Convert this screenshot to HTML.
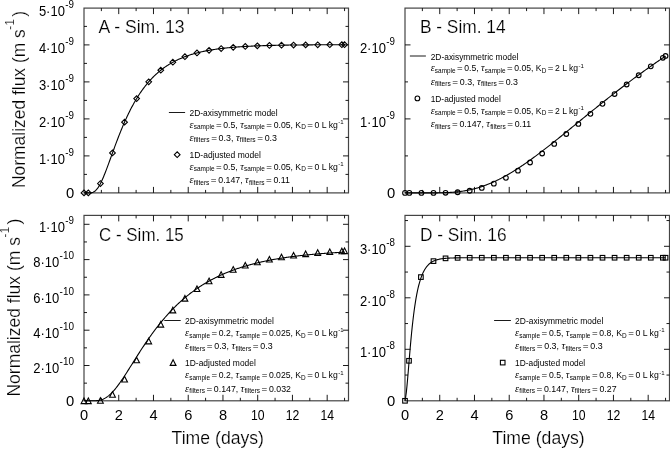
<!DOCTYPE html>
<html><head><meta charset="utf-8"><style>
html,body{margin:0;padding:0;background:#fff;}
svg{display:block;will-change:transform;}
text{font-family:"Liberation Sans",sans-serif;fill:#000;}
.th{stroke:#fff;stroke-width:0.2px;}
</style></head><body>
<svg width="670" height="449" viewBox="0 0 670 449">
<rect width="670" height="449" fill="#fff"/>
<rect x="84.00" y="8.10" width="264.50" height="184.80" fill="none" stroke="#444" stroke-width="1.2"/>
<path d="M101.37,192.90v-3M101.37,8.10v3M118.74,192.90v-6M118.74,8.10v6M136.11,192.90v-3M136.11,8.10v3M153.48,192.90v-6M153.48,8.10v6M170.85,192.90v-3M170.85,8.10v3M188.22,192.90v-6M188.22,8.10v6M205.59,192.90v-3M205.59,8.10v3M222.96,192.90v-6M222.96,8.10v6M240.33,192.90v-3M240.33,8.10v3M257.70,192.90v-6M257.70,8.10v6M275.07,192.90v-3M275.07,8.10v3M292.44,192.90v-6M292.44,8.10v6M309.81,192.90v-3M309.81,8.10v3M327.18,192.90v-6M327.18,8.10v6M344.55,192.90v-3M344.55,8.10v3M84.00,155.90h5.5M348.50,155.90h-5.5M84.00,118.90h5.5M348.50,118.90h-5.5M84.00,81.90h5.5M348.50,81.90h-5.5M84.00,44.90h5.5M348.50,44.90h-5.5M84.00,174.40h3M348.50,174.40h-3M84.00,137.40h3M348.50,137.40h-3M84.00,100.40h3M348.50,100.40h-3M84.00,63.40h3M348.50,63.40h-3M84.00,26.40h3M348.50,26.40h-3" stroke="#000" stroke-width="0.9" fill="none"/>
<text x="74.30" y="198.20" font-size="14.8" text-anchor="end">0</text>
<text x="64.90" y="163.60" font-size="14.8" text-anchor="end" textLength="26" lengthAdjust="spacingAndGlyphs">1·10</text>
<text x="74.00" y="155.70" font-size="10" text-anchor="end" textLength="8.7" lengthAdjust="spacingAndGlyphs">-9</text>
<text x="64.90" y="126.60" font-size="14.8" text-anchor="end" textLength="26" lengthAdjust="spacingAndGlyphs">2·10</text>
<text x="74.00" y="118.70" font-size="10" text-anchor="end" textLength="8.7" lengthAdjust="spacingAndGlyphs">-9</text>
<text x="64.90" y="89.60" font-size="14.8" text-anchor="end" textLength="26" lengthAdjust="spacingAndGlyphs">3·10</text>
<text x="74.00" y="81.70" font-size="10" text-anchor="end" textLength="8.7" lengthAdjust="spacingAndGlyphs">-9</text>
<text x="64.90" y="52.60" font-size="14.8" text-anchor="end" textLength="26" lengthAdjust="spacingAndGlyphs">4·10</text>
<text x="74.00" y="44.70" font-size="10" text-anchor="end" textLength="8.7" lengthAdjust="spacingAndGlyphs">-9</text>
<text x="64.90" y="15.60" font-size="14.8" text-anchor="end" textLength="26" lengthAdjust="spacingAndGlyphs">5·10</text>
<text x="74.00" y="7.70" font-size="10" text-anchor="end" textLength="8.7" lengthAdjust="spacingAndGlyphs">-9</text>
<polyline points="84.00,192.90 84.65,192.90 85.31,192.90 85.96,192.90 86.61,192.90 87.27,192.90 87.92,192.90 88.57,192.89 89.22,192.88 89.88,192.85 90.53,192.81 91.18,192.73 91.84,192.60 92.49,192.42 93.14,192.18 93.80,191.86 94.45,191.46 95.10,190.97 95.75,190.39 96.41,189.71 97.06,188.94 97.71,188.08 98.37,187.12 99.02,186.08 99.67,184.95 100.33,183.74 100.98,182.45 101.63,181.09 102.28,179.67 102.94,178.19 103.59,176.66 104.24,175.07 104.90,173.45 105.55,171.79 106.20,170.09 106.86,168.37 107.51,166.62 108.16,164.86 108.81,163.08 109.47,161.29 110.12,159.49 110.77,157.69 111.43,155.88 112.08,154.08 112.73,152.28 113.39,150.48 114.04,148.70 114.69,146.92 115.34,145.16 116.00,143.41 116.65,141.67 117.30,139.95 117.96,138.25 118.61,136.56 119.26,134.89 119.92,133.25 120.57,131.62 121.22,130.01 121.87,128.43 122.53,126.86 123.18,125.32 123.83,123.81 124.49,122.31 125.14,120.84 125.79,119.39 126.45,117.96 127.10,116.55 127.75,115.17 128.40,113.81 129.06,112.48 129.71,111.16 130.36,109.87 131.02,108.60 131.67,107.36 132.32,106.13 132.98,104.93 133.63,103.75 134.28,102.59 134.93,101.45 135.59,100.33 136.24,99.24 136.89,98.16 137.55,97.10 138.20,96.06 138.85,95.05 139.51,94.05 140.16,93.07 140.81,92.11 141.46,91.17 142.12,90.24 142.77,89.33 143.42,88.45 144.08,87.57 144.73,86.72 145.38,85.88 146.04,85.06 146.69,84.25 147.34,83.46 147.99,82.68 148.65,81.92 149.30,81.18 149.95,80.45 150.61,79.73 151.26,79.03 151.91,78.34 152.57,77.67 153.22,77.01 153.87,76.36 154.52,75.72 155.18,75.10 155.83,74.49 156.48,73.89 157.14,73.30 157.79,72.73 158.44,72.17 159.10,71.61 159.75,71.07 160.40,70.54 161.05,70.02 161.71,69.51 162.36,69.01 163.01,68.52 163.67,68.04 164.32,67.57 164.97,67.11 165.63,66.66 166.28,66.22 166.93,65.79 167.58,65.36 168.24,64.94 168.89,64.54 169.54,64.14 170.20,63.74 170.85,63.36 171.50,62.98 172.16,62.61 172.81,62.25 173.46,61.90 174.12,61.55 174.77,61.21 175.42,60.88 176.07,60.55 176.73,60.23 177.38,59.92 178.03,59.61 178.69,59.31 179.34,59.01 179.99,58.72 180.65,58.44 181.30,58.16 181.95,57.89 182.60,57.62 183.26,57.36 183.91,57.10 184.56,56.85 185.22,56.61 185.87,56.37 186.52,56.13 187.18,55.90 187.83,55.67 188.48,55.45 189.13,55.23 189.79,55.02 190.44,54.81 191.09,54.60 191.75,54.40 192.40,54.21 193.05,54.01 193.71,53.82 194.36,53.64 195.01,53.46 195.66,53.28 196.32,53.10 196.97,52.93 197.62,52.77 198.28,52.60 198.93,52.44 199.58,52.28 200.24,52.13 200.89,51.98 201.54,51.83 202.19,51.69 202.85,51.54 203.50,51.40 204.15,51.27 204.81,51.13 205.46,51.00 206.11,50.87 206.77,50.75 207.42,50.62 208.07,50.50 208.72,50.38 209.38,50.27 210.03,50.15 210.68,50.04 211.34,49.93 211.99,49.83 212.64,49.72 213.30,49.62 213.95,49.52 214.60,49.42 215.25,49.32 215.91,49.23 216.56,49.13 217.21,49.04 217.87,48.95 218.52,48.87 219.17,48.78 219.83,48.70 220.48,48.61 221.13,48.53 221.78,48.45 222.44,48.38 223.09,48.30 223.74,48.23 224.40,48.15 225.05,48.08 225.70,48.01 226.36,47.94 227.01,47.88 227.66,47.81 228.31,47.75 228.97,47.68 229.62,47.62 230.27,47.56 230.93,47.50 231.58,47.44 232.23,47.38 232.89,47.33 233.54,47.27 234.19,47.22 234.84,47.17 235.50,47.12 236.15,47.07 236.80,47.02 237.46,46.97 238.11,46.92 238.76,46.87 239.42,46.83 240.07,46.78 240.72,46.74 241.37,46.70 242.03,46.65 242.68,46.61 243.33,46.57 243.99,46.53 244.64,46.49 245.29,46.45 245.95,46.42 246.60,46.38 247.25,46.35 247.90,46.31 248.56,46.28 249.21,46.24 249.86,46.21 250.52,46.18 251.17,46.14 251.82,46.11 252.48,46.08 253.13,46.05 253.78,46.02 254.43,46.00 255.09,45.97 255.74,45.94 256.39,45.91 257.05,45.89 257.70,45.86 258.35,45.83 259.01,45.81 259.66,45.79 260.31,45.76 260.97,45.74 261.62,45.72 262.27,45.69 262.92,45.67 263.58,45.65 264.23,45.63 264.88,45.61 265.54,45.59 266.19,45.57 266.84,45.55 267.50,45.53 268.15,45.51 268.80,45.49 269.45,45.47 270.11,45.46 270.76,45.44 271.41,45.42 272.07,45.41 272.72,45.39 273.37,45.37 274.03,45.36 274.68,45.34 275.33,45.33 275.98,45.31 276.64,45.30 277.29,45.28 277.94,45.27 278.60,45.26 279.25,45.24 279.90,45.23 280.56,45.22 281.21,45.21 281.86,45.19 282.51,45.18 283.17,45.17 283.82,45.16 284.47,45.15 285.13,45.14 285.78,45.12 286.43,45.11 287.09,45.10 287.74,45.09 288.39,45.08 289.04,45.07 289.70,45.06 290.35,45.05 291.00,45.05 291.66,45.04 292.31,45.03 292.96,45.02 293.62,45.01 294.27,45.00 294.92,44.99 295.57,44.99 296.23,44.98 296.88,44.97 297.53,44.96 298.19,44.96 298.84,44.95 299.49,44.94 300.15,44.93 300.80,44.93 301.45,44.92 302.10,44.91 302.76,44.91 303.41,44.90 304.06,44.90 304.72,44.89 305.37,44.88 306.02,44.88 306.68,44.87 307.33,44.87 307.98,44.86 308.63,44.86 309.29,44.85 309.94,44.85 310.59,44.84 311.25,44.84 311.90,44.83 312.55,44.83 313.21,44.82 313.86,44.82 314.51,44.81 315.16,44.81 315.82,44.80 316.47,44.80 317.12,44.80 317.78,44.79 318.43,44.79 319.08,44.78 319.74,44.78 320.39,44.78 321.04,44.77 321.69,44.77 322.35,44.77 323.00,44.76 323.65,44.76 324.31,44.76 324.96,44.75 325.61,44.75 326.27,44.75 326.92,44.74 327.57,44.74 328.22,44.74 328.88,44.73 329.53,44.73 330.18,44.73 330.84,44.73 331.49,44.72 332.14,44.72 332.80,44.72 333.45,44.72 334.10,44.71 334.75,44.71 335.41,44.71 336.06,44.71 336.71,44.70 337.37,44.70 338.02,44.70 338.67,44.70 339.33,44.70 339.98,44.69 340.63,44.69 341.28,44.69 341.94,44.69 342.59,44.69 343.24,44.68 343.90,44.68 344.55,44.68" fill="none" stroke="#000" stroke-width="1.1"/>
<g fill="none" stroke="#000" stroke-width="1.1"><path d="M81.15,192.90L84.00,190.05L86.85,192.90L84.00,195.75Z"/><path d="M85.49,192.90L88.34,190.05L91.19,192.90L88.34,195.75Z"/><path d="M97.56,183.57L100.41,180.72L103.26,183.57L100.41,186.42Z"/><path d="M109.64,152.95L112.49,150.10L115.34,152.95L112.49,155.80Z"/><path d="M121.71,122.14L124.56,119.29L127.41,122.14L124.56,124.99Z"/><path d="M133.78,98.59L136.63,95.74L139.48,98.59L136.63,101.44Z"/><path d="M145.85,81.86L148.70,79.01L151.55,81.86L148.70,84.71Z"/><path d="M157.93,70.24L160.78,67.39L163.63,70.24L160.78,73.09Z"/><path d="M170.00,62.23L172.85,59.38L175.70,62.23L172.85,65.08Z"/><path d="M182.07,56.72L184.92,53.87L187.77,56.72L184.92,59.57Z"/><path d="M194.14,52.93L196.99,50.08L199.84,52.93L196.99,55.78Z"/><path d="M206.21,50.32L209.06,47.47L211.91,50.32L209.06,53.17Z"/><path d="M218.29,48.53L221.14,45.68L223.99,48.53L221.14,51.38Z"/><path d="M230.36,47.30L233.21,44.45L236.06,47.30L233.21,50.15Z"/><path d="M242.43,46.46L245.28,43.61L248.13,46.46L245.28,49.31Z"/><path d="M254.50,45.87L257.35,43.02L260.20,45.87L257.35,48.72Z"/><path d="M266.57,45.47L269.42,42.62L272.27,45.47L269.42,48.32Z"/><path d="M278.65,45.20L281.50,42.35L284.35,45.20L281.50,48.05Z"/><path d="M290.72,45.01L293.57,42.16L296.42,45.01L293.57,47.86Z"/><path d="M302.79,44.88L305.64,42.03L308.49,44.88L305.64,47.73Z"/><path d="M314.86,44.79L317.71,41.94L320.56,44.79L317.71,47.64Z"/><path d="M326.94,44.73L329.79,41.88L332.64,44.73L329.79,47.58Z"/><path d="M339.01,44.69L341.86,41.84L344.71,44.69L341.86,47.54Z"/><path d="M341.70,44.68L344.55,41.83L347.40,44.68L344.55,47.53Z"/></g>
<rect x="405.00" y="8.10" width="264.50" height="184.80" fill="none" stroke="#444" stroke-width="1.2"/>
<path d="M422.37,192.90v-3M422.37,8.10v3M439.74,192.90v-6M439.74,8.10v6M457.11,192.90v-3M457.11,8.10v3M474.48,192.90v-6M474.48,8.10v6M491.85,192.90v-3M491.85,8.10v3M509.22,192.90v-6M509.22,8.10v6M526.59,192.90v-3M526.59,8.10v3M543.96,192.90v-6M543.96,8.10v6M561.33,192.90v-3M561.33,8.10v3M578.70,192.90v-6M578.70,8.10v6M596.07,192.90v-3M596.07,8.10v3M613.44,192.90v-6M613.44,8.10v6M630.81,192.90v-3M630.81,8.10v3M648.18,192.90v-6M648.18,8.10v6M665.55,192.90v-3M665.55,8.10v3M405.00,118.90h5.5M669.50,118.90h-5.5M405.00,44.90h5.5M669.50,44.90h-5.5M405.00,155.90h3M669.50,155.90h-3M405.00,81.90h3M669.50,81.90h-3" stroke="#000" stroke-width="0.9" fill="none"/>
<text x="395.30" y="198.20" font-size="14.8" text-anchor="end">0</text>
<text x="385.90" y="126.60" font-size="14.8" text-anchor="end" textLength="26" lengthAdjust="spacingAndGlyphs">1·10</text>
<text x="395.00" y="118.70" font-size="10" text-anchor="end" textLength="8.7" lengthAdjust="spacingAndGlyphs">-9</text>
<text x="385.90" y="52.60" font-size="14.8" text-anchor="end" textLength="26" lengthAdjust="spacingAndGlyphs">2·10</text>
<text x="395.00" y="44.70" font-size="10" text-anchor="end" textLength="8.7" lengthAdjust="spacingAndGlyphs">-9</text>
<polyline points="405.00,192.90 405.65,192.90 406.31,192.90 406.96,192.90 407.61,192.90 408.27,192.90 408.92,192.90 409.57,192.90 410.22,192.90 410.88,192.90 411.53,192.90 412.18,192.90 412.84,192.90 413.49,192.90 414.14,192.90 414.80,192.90 415.45,192.90 416.10,192.90 416.75,192.90 417.41,192.90 418.06,192.90 418.71,192.90 419.37,192.90 420.02,192.90 420.67,192.90 421.33,192.90 421.98,192.90 422.63,192.90 423.28,192.90 423.94,192.90 424.59,192.90 425.24,192.90 425.90,192.90 426.55,192.90 427.20,192.89 427.86,192.89 428.51,192.89 429.16,192.89 429.81,192.89 430.47,192.89 431.12,192.88 431.77,192.88 432.43,192.88 433.08,192.87 433.73,192.87 434.39,192.86 435.04,192.86 435.69,192.85 436.34,192.85 437.00,192.84 437.65,192.83 438.30,192.82 438.96,192.81 439.61,192.80 440.26,192.79 440.92,192.77 441.57,192.76 442.22,192.74 442.87,192.73 443.53,192.71 444.18,192.69 444.83,192.66 445.49,192.64 446.14,192.61 446.79,192.59 447.45,192.56 448.10,192.53 448.75,192.49 449.40,192.46 450.06,192.42 450.71,192.38 451.36,192.34 452.02,192.29 452.67,192.24 453.32,192.19 453.98,192.14 454.63,192.09 455.28,192.03 455.93,191.97 456.59,191.90 457.24,191.83 457.89,191.76 458.55,191.69 459.20,191.61 459.85,191.53 460.51,191.45 461.16,191.36 461.81,191.27 462.46,191.18 463.12,191.08 463.77,190.98 464.42,190.87 465.08,190.76 465.73,190.65 466.38,190.53 467.04,190.41 467.69,190.29 468.34,190.16 468.99,190.03 469.65,189.89 470.30,189.75 470.95,189.61 471.61,189.46 472.26,189.30 472.91,189.15 473.57,188.99 474.22,188.82 474.87,188.65 475.52,188.48 476.18,188.30 476.83,188.12 477.48,187.93 478.14,187.74 478.79,187.54 479.44,187.34 480.10,187.14 480.75,186.93 481.40,186.72 482.05,186.50 482.71,186.28 483.36,186.05 484.01,185.82 484.67,185.59 485.32,185.35 485.97,185.11 486.63,184.86 487.28,184.61 487.93,184.35 488.58,184.09 489.24,183.83 489.89,183.56 490.54,183.29 491.20,183.01 491.85,182.73 492.50,182.44 493.16,182.15 493.81,181.86 494.46,181.56 495.12,181.26 495.77,180.96 496.42,180.65 497.07,180.33 497.73,180.02 498.38,179.70 499.03,179.37 499.69,179.04 500.34,178.71 500.99,178.37 501.65,178.03 502.30,177.69 502.95,177.34 503.60,176.99 504.26,176.63 504.91,176.28 505.56,175.91 506.22,175.55 506.87,175.18 507.52,174.81 508.18,174.43 508.83,174.05 509.48,173.67 510.13,173.28 510.79,172.89 511.44,172.50 512.09,172.11 512.75,171.71 513.40,171.31 514.05,170.90 514.71,170.49 515.36,170.08 516.01,169.67 516.66,169.25 517.32,168.83 517.97,168.41 518.62,167.99 519.28,167.56 519.93,167.13 520.58,166.70 521.24,166.26 521.89,165.82 522.54,165.38 523.19,164.94 523.85,164.49 524.50,164.05 525.15,163.60 525.81,163.14 526.46,162.69 527.11,162.23 527.77,161.77 528.42,161.31 529.07,160.85 529.72,160.38 530.38,159.91 531.03,159.44 531.68,158.97 532.34,158.49 532.99,158.02 533.64,157.54 534.30,157.06 534.95,156.58 535.60,156.10 536.25,155.61 536.91,155.12 537.56,154.64 538.21,154.15 538.87,153.65 539.52,153.16 540.17,152.67 540.83,152.17 541.48,151.67 542.13,151.17 542.78,150.67 543.44,150.17 544.09,149.67 544.74,149.16 545.40,148.66 546.05,148.15 546.70,147.64 547.36,147.13 548.01,146.62 548.66,146.11 549.31,145.60 549.97,145.08 550.62,144.57 551.27,144.05 551.93,143.54 552.58,143.02 553.23,142.50 553.89,141.98 554.54,141.46 555.19,140.94 555.84,140.42 556.50,139.90 557.15,139.37 557.80,138.85 558.46,138.33 559.11,137.80 559.76,137.28 560.42,136.75 561.07,136.22 561.72,135.70 562.37,135.17 563.03,134.64 563.68,134.11 564.33,133.58 564.99,133.05 565.64,132.52 566.29,131.99 566.95,131.46 567.60,130.93 568.25,130.40 568.90,129.87 569.56,129.33 570.21,128.80 570.86,128.27 571.52,127.74 572.17,127.20 572.82,126.67 573.48,126.14 574.13,125.61 574.78,125.07 575.43,124.54 576.09,124.01 576.74,123.47 577.39,122.94 578.05,122.41 578.70,121.87 579.35,121.34 580.01,120.81 580.66,120.27 581.31,119.74 581.97,119.21 582.62,118.68 583.27,118.14 583.92,117.61 584.58,117.08 585.23,116.55 585.88,116.02 586.54,115.49 587.19,114.95 587.84,114.42 588.50,113.89 589.15,113.36 589.80,112.83 590.45,112.30 591.11,111.78 591.76,111.25 592.41,110.72 593.07,110.19 593.72,109.66 594.37,109.13 595.03,108.61 595.68,108.08 596.33,107.56 596.98,107.03 597.64,106.51 598.29,105.98 598.94,105.46 599.60,104.93 600.25,104.41 600.90,103.89 601.56,103.37 602.21,102.85 602.86,102.33 603.51,101.81 604.17,101.29 604.82,100.77 605.47,100.25 606.13,99.73 606.78,99.21 607.43,98.70 608.09,98.18 608.74,97.67 609.39,97.15 610.04,96.64 610.70,96.13 611.35,95.61 612.00,95.10 612.66,94.59 613.31,94.08 613.96,93.57 614.62,93.06 615.27,92.56 615.92,92.05 616.57,91.54 617.23,91.04 617.88,90.53 618.53,90.03 619.19,89.52 619.84,89.02 620.49,88.52 621.15,88.02 621.80,87.52 622.45,87.02 623.10,86.52 623.76,86.02 624.41,85.53 625.06,85.03 625.72,84.54 626.37,84.04 627.02,83.55 627.68,83.06 628.33,82.57 628.98,82.08 629.63,81.59 630.29,81.10 630.94,80.61 631.59,80.12 632.25,79.64 632.90,79.15 633.55,78.67 634.21,78.18 634.86,77.70 635.51,77.22 636.16,76.74 636.82,76.26 637.47,75.78 638.12,75.30 638.78,74.83 639.43,74.35 640.08,73.88 640.74,73.40 641.39,72.93 642.04,72.46 642.69,71.99 643.35,71.52 644.00,71.05 644.65,70.58 645.31,70.11 645.96,69.65 646.61,69.18 647.27,68.72 647.92,68.25 648.57,67.79 649.22,67.33 649.88,66.87 650.53,66.41 651.18,65.95 651.84,65.50 652.49,65.04 653.14,64.58 653.80,64.13 654.45,63.68 655.10,63.23 655.75,62.77 656.41,62.32 657.06,61.88 657.71,61.43 658.37,60.98 659.02,60.54 659.67,60.09 660.33,59.65 660.98,59.20 661.63,58.76 662.28,58.32 662.94,57.88 663.59,57.44 664.24,57.01 664.90,56.57 665.55,56.13" fill="none" stroke="#000" stroke-width="1.1"/>
<g fill="none" stroke="#000" stroke-width="1.1"><circle cx="405.00" cy="192.90" r="2.35"/><circle cx="409.34" cy="192.90" r="2.35"/><circle cx="421.41" cy="192.90" r="2.35"/><circle cx="433.49" cy="192.89" r="2.35"/><circle cx="445.56" cy="192.78" r="2.35"/><circle cx="457.63" cy="192.24" r="2.35"/><circle cx="469.70" cy="190.77" r="2.35"/><circle cx="481.78" cy="187.96" r="2.35"/><circle cx="493.85" cy="183.64" r="2.35"/><circle cx="505.92" cy="177.83" r="2.35"/><circle cx="517.99" cy="170.70" r="2.35"/><circle cx="530.06" cy="162.51" r="2.35"/><circle cx="542.14" cy="153.50" r="2.35"/><circle cx="554.21" cy="143.93" r="2.35"/><circle cx="566.28" cy="134.02" r="2.35"/><circle cx="578.35" cy="123.94" r="2.35"/><circle cx="590.42" cy="113.85" r="2.35"/><circle cx="602.50" cy="103.86" r="2.35"/><circle cx="614.57" cy="94.06" r="2.35"/><circle cx="626.64" cy="84.51" r="2.35"/><circle cx="638.71" cy="75.27" r="2.35"/><circle cx="650.79" cy="66.37" r="2.35"/><circle cx="662.86" cy="57.82" r="2.35"/><circle cx="665.55" cy="55.96" r="2.35"/></g>
<rect x="84.00" y="215.40" width="264.50" height="185.40" fill="none" stroke="#444" stroke-width="1.2"/>
<path d="M101.37,400.80v-3M101.37,215.40v3M118.74,400.80v-6M118.74,215.40v6M136.11,400.80v-3M136.11,215.40v3M153.48,400.80v-6M153.48,215.40v6M170.85,400.80v-3M170.85,215.40v3M188.22,400.80v-6M188.22,215.40v6M205.59,400.80v-3M205.59,215.40v3M222.96,400.80v-6M222.96,215.40v6M240.33,400.80v-3M240.33,215.40v3M257.70,400.80v-6M257.70,215.40v6M275.07,400.80v-3M275.07,215.40v3M292.44,400.80v-6M292.44,215.40v6M309.81,400.80v-3M309.81,215.40v3M327.18,400.80v-6M327.18,215.40v6M344.55,400.80v-3M344.55,215.40v3M84.00,365.50h5.5M348.50,365.50h-5.5M84.00,330.20h5.5M348.50,330.20h-5.5M84.00,294.90h5.5M348.50,294.90h-5.5M84.00,259.60h5.5M348.50,259.60h-5.5M84.00,224.30h5.5M348.50,224.30h-5.5M84.00,383.15h3M348.50,383.15h-3M84.00,347.85h3M348.50,347.85h-3M84.00,312.55h3M348.50,312.55h-3M84.00,277.25h3M348.50,277.25h-3M84.00,241.95h3M348.50,241.95h-3" stroke="#000" stroke-width="0.9" fill="none"/>
<text x="74.30" y="406.10" font-size="14.8" text-anchor="end">0</text>
<text x="59.20" y="373.20" font-size="14.8" text-anchor="end" textLength="26" lengthAdjust="spacingAndGlyphs">2·10</text>
<text x="74.00" y="365.30" font-size="10" text-anchor="end" textLength="14.4" lengthAdjust="spacingAndGlyphs">-10</text>
<text x="59.20" y="337.90" font-size="14.8" text-anchor="end" textLength="26" lengthAdjust="spacingAndGlyphs">4·10</text>
<text x="74.00" y="330.00" font-size="10" text-anchor="end" textLength="14.4" lengthAdjust="spacingAndGlyphs">-10</text>
<text x="59.20" y="302.60" font-size="14.8" text-anchor="end" textLength="26" lengthAdjust="spacingAndGlyphs">6·10</text>
<text x="74.00" y="294.70" font-size="10" text-anchor="end" textLength="14.4" lengthAdjust="spacingAndGlyphs">-10</text>
<text x="59.20" y="267.30" font-size="14.8" text-anchor="end" textLength="26" lengthAdjust="spacingAndGlyphs">8·10</text>
<text x="74.00" y="259.40" font-size="10" text-anchor="end" textLength="14.4" lengthAdjust="spacingAndGlyphs">-10</text>
<text x="64.90" y="232.00" font-size="14.8" text-anchor="end" textLength="26" lengthAdjust="spacingAndGlyphs">1·10</text>
<text x="74.00" y="224.10" font-size="10" text-anchor="end" textLength="8.7" lengthAdjust="spacingAndGlyphs">-9</text>
<text x="84.00" y="420.20" font-size="14.6" text-anchor="middle">0</text>
<text x="118.74" y="420.20" font-size="14.6" text-anchor="middle">2</text>
<text x="153.48" y="420.20" font-size="14.6" text-anchor="middle">4</text>
<text x="188.22" y="420.20" font-size="14.6" text-anchor="middle">6</text>
<text x="222.96" y="420.20" font-size="14.6" text-anchor="middle">8</text>
<text x="257.70" y="420.20" font-size="14.6" text-anchor="middle" textLength="13.6" lengthAdjust="spacingAndGlyphs">10</text>
<text x="292.44" y="420.20" font-size="14.6" text-anchor="middle" textLength="13.6" lengthAdjust="spacingAndGlyphs">12</text>
<text x="327.18" y="420.20" font-size="14.6" text-anchor="middle" textLength="13.6" lengthAdjust="spacingAndGlyphs">14</text>
<polyline points="84.00,400.80 84.65,400.80 85.31,400.80 85.96,400.80 86.61,400.80 87.27,400.80 87.92,400.80 88.57,400.80 89.22,400.80 89.88,400.80 90.53,400.80 91.18,400.80 91.84,400.80 92.49,400.79 93.14,400.78 93.80,400.77 94.45,400.76 95.10,400.73 95.75,400.70 96.41,400.66 97.06,400.60 97.71,400.53 98.37,400.44 99.02,400.34 99.67,400.21 100.33,400.06 100.98,399.89 101.63,399.69 102.28,399.46 102.94,399.21 103.59,398.93 104.24,398.61 104.90,398.27 105.55,397.90 106.20,397.49 106.86,397.06 107.51,396.59 108.16,396.09 108.81,395.57 109.47,395.01 110.12,394.42 110.77,393.81 111.43,393.17 112.08,392.50 112.73,391.81 113.39,391.09 114.04,390.34 114.69,389.58 115.34,388.79 116.00,387.98 116.65,387.15 117.30,386.30 117.96,385.43 118.61,384.55 119.26,383.65 119.92,382.73 120.57,381.80 121.22,380.86 121.87,379.91 122.53,378.94 123.18,377.97 123.83,376.98 124.49,375.99 125.14,374.99 125.79,373.98 126.45,372.96 127.10,371.94 127.75,370.92 128.40,369.89 129.06,368.86 129.71,367.82 130.36,366.79 131.02,365.75 131.67,364.71 132.32,363.67 132.98,362.63 133.63,361.59 134.28,360.55 134.93,359.51 135.59,358.48 136.24,357.45 136.89,356.42 137.55,355.39 138.20,354.36 138.85,353.34 139.51,352.33 140.16,351.32 140.81,350.31 141.46,349.30 142.12,348.31 142.77,347.31 143.42,346.33 144.08,345.34 144.73,344.37 145.38,343.40 146.04,342.43 146.69,341.48 147.34,340.52 147.99,339.58 148.65,338.64 149.30,337.71 149.95,336.78 150.61,335.87 151.26,334.95 151.91,334.05 152.57,333.15 153.22,332.26 153.87,331.38 154.52,330.51 155.18,329.64 155.83,328.78 156.48,327.92 157.14,327.08 157.79,326.24 158.44,325.41 159.10,324.59 159.75,323.77 160.40,322.96 161.05,322.16 161.71,321.37 162.36,320.58 163.01,319.80 163.67,319.03 164.32,318.27 164.97,317.51 165.63,316.76 166.28,316.02 166.93,315.28 167.58,314.55 168.24,313.83 168.89,313.12 169.54,312.41 170.20,311.71 170.85,311.02 171.50,310.34 172.16,309.66 172.81,308.99 173.46,308.32 174.12,307.67 174.77,307.02 175.42,306.37 176.07,305.74 176.73,305.11 177.38,304.48 178.03,303.86 178.69,303.25 179.34,302.65 179.99,302.05 180.65,301.46 181.30,300.87 181.95,300.30 182.60,299.72 183.26,299.16 183.91,298.60 184.56,298.04 185.22,297.49 185.87,296.95 186.52,296.41 187.18,295.88 187.83,295.36 188.48,294.84 189.13,294.32 189.79,293.81 190.44,293.31 191.09,292.81 191.75,292.32 192.40,291.84 193.05,291.36 193.71,290.88 194.36,290.41 195.01,289.94 195.66,289.48 196.32,289.03 196.97,288.58 197.62,288.13 198.28,287.69 198.93,287.26 199.58,286.83 200.24,286.40 200.89,285.98 201.54,285.56 202.19,285.15 202.85,284.75 203.50,284.34 204.15,283.95 204.81,283.55 205.46,283.16 206.11,282.78 206.77,282.40 207.42,282.02 208.07,281.65 208.72,281.28 209.38,280.92 210.03,280.56 210.68,280.20 211.34,279.85 211.99,279.50 212.64,279.16 213.30,278.82 213.95,278.48 214.60,278.15 215.25,277.82 215.91,277.50 216.56,277.17 217.21,276.86 217.87,276.54 218.52,276.23 219.17,275.93 219.83,275.62 220.48,275.32 221.13,275.02 221.78,274.73 222.44,274.44 223.09,274.15 223.74,273.87 224.40,273.59 225.05,273.31 225.70,273.04 226.36,272.77 227.01,272.50 227.66,272.23 228.31,271.97 228.97,271.71 229.62,271.46 230.27,271.20 230.93,270.95 231.58,270.71 232.23,270.46 232.89,270.22 233.54,269.98 234.19,269.74 234.84,269.51 235.50,269.28 236.15,269.05 236.80,268.83 237.46,268.60 238.11,268.38 238.76,268.16 239.42,267.95 240.07,267.73 240.72,267.52 241.37,267.31 242.03,267.11 242.68,266.90 243.33,266.70 243.99,266.50 244.64,266.31 245.29,266.11 245.95,265.92 246.60,265.73 247.25,265.54 247.90,265.35 248.56,265.17 249.21,264.99 249.86,264.81 250.52,264.63 251.17,264.45 251.82,264.28 252.48,264.11 253.13,263.94 253.78,263.77 254.43,263.60 255.09,263.44 255.74,263.28 256.39,263.12 257.05,262.96 257.70,262.80 258.35,262.65 259.01,262.49 259.66,262.34 260.31,262.19 260.97,262.04 261.62,261.90 262.27,261.75 262.92,261.61 263.58,261.47 264.23,261.33 264.88,261.19 265.54,261.05 266.19,260.92 266.84,260.79 267.50,260.65 268.15,260.52 268.80,260.39 269.45,260.27 270.11,260.14 270.76,260.01 271.41,259.89 272.07,259.77 272.72,259.65 273.37,259.53 274.03,259.41 274.68,259.29 275.33,259.18 275.98,259.07 276.64,258.95 277.29,258.84 277.94,258.73 278.60,258.62 279.25,258.52 279.90,258.41 280.56,258.30 281.21,258.20 281.86,258.10 282.51,258.00 283.17,257.90 283.82,257.80 284.47,257.70 285.13,257.60 285.78,257.50 286.43,257.41 287.09,257.32 287.74,257.22 288.39,257.13 289.04,257.04 289.70,256.95 290.35,256.86 291.00,256.78 291.66,256.69 292.31,256.60 292.96,256.52 293.62,256.43 294.27,256.35 294.92,256.27 295.57,256.19 296.23,256.11 296.88,256.03 297.53,255.95 298.19,255.87 298.84,255.80 299.49,255.72 300.15,255.65 300.80,255.57 301.45,255.50 302.10,255.43 302.76,255.36 303.41,255.29 304.06,255.22 304.72,255.15 305.37,255.08 306.02,255.01 306.68,254.95 307.33,254.88 307.98,254.82 308.63,254.75 309.29,254.69 309.94,254.63 310.59,254.56 311.25,254.50 311.90,254.44 312.55,254.38 313.21,254.32 313.86,254.26 314.51,254.20 315.16,254.15 315.82,254.09 316.47,254.03 317.12,253.98 317.78,253.92 318.43,253.87 319.08,253.82 319.74,253.76 320.39,253.71 321.04,253.66 321.69,253.61 322.35,253.56 323.00,253.51 323.65,253.46 324.31,253.41 324.96,253.36 325.61,253.31 326.27,253.27 326.92,253.22 327.57,253.17 328.22,253.13 328.88,253.08 329.53,253.04 330.18,252.99 330.84,252.95 331.49,252.91 332.14,252.86 332.80,252.82 333.45,252.78 334.10,252.74 334.75,252.70 335.41,252.66 336.06,252.62 336.71,252.58 337.37,252.54 338.02,252.50 338.67,252.46 339.33,252.43 339.98,252.39 340.63,252.35 341.28,252.32 341.94,252.28 342.59,252.24 343.24,252.21 343.90,252.17 344.55,252.14" fill="none" stroke="#000" stroke-width="1.1"/>
<g fill="none" stroke="#000" stroke-width="1.1"><path d="M84.00,398.00L86.90,403.60L81.10,403.60Z"/><path d="M88.34,398.00L91.24,403.60L85.44,403.60Z"/><path d="M100.41,397.70L103.31,403.30L97.51,403.30Z"/><path d="M112.49,391.58L115.39,397.18L109.59,397.18Z"/><path d="M124.56,376.33L127.46,381.93L121.66,381.93Z"/><path d="M136.63,357.14L139.53,362.74L133.73,362.74Z"/><path d="M148.70,338.26L151.60,343.86L145.80,343.86Z"/><path d="M160.78,321.50L163.68,327.10L157.88,327.10Z"/><path d="M172.85,307.30L175.75,312.90L169.95,312.90Z"/><path d="M184.92,295.55L187.82,301.15L182.02,301.15Z"/><path d="M196.99,285.93L199.89,291.53L194.09,291.53Z"/><path d="M209.06,278.11L211.96,283.71L206.16,283.71Z"/><path d="M221.14,271.76L224.04,277.36L218.24,277.36Z"/><path d="M233.21,266.62L236.11,272.22L230.31,272.22Z"/><path d="M245.28,262.47L248.18,268.07L242.38,268.07Z"/><path d="M257.35,259.11L260.25,264.71L254.45,264.71Z"/><path d="M269.42,256.39L272.32,261.99L266.52,261.99Z"/><path d="M281.50,254.19L284.40,259.79L278.60,259.79Z"/><path d="M293.57,252.42L296.47,258.02L290.67,258.02Z"/><path d="M305.64,250.98L308.54,256.58L302.74,256.58Z"/><path d="M317.71,249.82L320.61,255.42L314.81,255.42Z"/><path d="M329.79,248.89L332.69,254.49L326.89,254.49Z"/><path d="M341.86,248.13L344.76,253.73L338.96,253.73Z"/><path d="M344.55,247.98L347.45,253.58L341.65,253.58Z"/></g>
<rect x="405.00" y="215.40" width="264.50" height="185.40" fill="none" stroke="#444" stroke-width="1.2"/>
<path d="M422.37,400.80v-3M422.37,215.40v3M439.74,400.80v-6M439.74,215.40v6M457.11,400.80v-3M457.11,215.40v3M474.48,400.80v-6M474.48,215.40v6M491.85,400.80v-3M491.85,215.40v3M509.22,400.80v-6M509.22,215.40v6M526.59,400.80v-3M526.59,215.40v3M543.96,400.80v-6M543.96,215.40v6M561.33,400.80v-3M561.33,215.40v3M578.70,400.80v-6M578.70,215.40v6M596.07,400.80v-3M596.07,215.40v3M613.44,400.80v-6M613.44,215.40v6M630.81,400.80v-3M630.81,215.40v3M648.18,400.80v-6M648.18,215.40v6M665.55,400.80v-3M665.55,215.40v3M405.00,349.30h5.5M669.50,349.30h-5.5M405.00,297.80h5.5M669.50,297.80h-5.5M405.00,246.30h5.5M669.50,246.30h-5.5M405.00,375.05h3M669.50,375.05h-3M405.00,323.55h3M669.50,323.55h-3M405.00,272.05h3M669.50,272.05h-3M405.00,220.55h3M669.50,220.55h-3" stroke="#000" stroke-width="0.9" fill="none"/>
<text x="395.30" y="406.10" font-size="14.8" text-anchor="end">0</text>
<text x="385.90" y="357.00" font-size="14.8" text-anchor="end" textLength="26" lengthAdjust="spacingAndGlyphs">1·10</text>
<text x="395.00" y="349.10" font-size="10" text-anchor="end" textLength="8.7" lengthAdjust="spacingAndGlyphs">-8</text>
<text x="385.90" y="305.50" font-size="14.8" text-anchor="end" textLength="26" lengthAdjust="spacingAndGlyphs">2·10</text>
<text x="395.00" y="297.60" font-size="10" text-anchor="end" textLength="8.7" lengthAdjust="spacingAndGlyphs">-8</text>
<text x="385.90" y="254.00" font-size="14.8" text-anchor="end" textLength="26" lengthAdjust="spacingAndGlyphs">3·10</text>
<text x="395.00" y="246.10" font-size="10" text-anchor="end" textLength="8.7" lengthAdjust="spacingAndGlyphs">-8</text>
<text x="405.00" y="420.20" font-size="14.6" text-anchor="middle">0</text>
<text x="439.74" y="420.20" font-size="14.6" text-anchor="middle">2</text>
<text x="474.48" y="420.20" font-size="14.6" text-anchor="middle">4</text>
<text x="509.22" y="420.20" font-size="14.6" text-anchor="middle">6</text>
<text x="543.96" y="420.20" font-size="14.6" text-anchor="middle">8</text>
<text x="578.70" y="420.20" font-size="14.6" text-anchor="middle" textLength="13.6" lengthAdjust="spacingAndGlyphs">10</text>
<text x="613.44" y="420.20" font-size="14.6" text-anchor="middle" textLength="13.6" lengthAdjust="spacingAndGlyphs">12</text>
<text x="648.18" y="420.20" font-size="14.6" text-anchor="middle" textLength="13.6" lengthAdjust="spacingAndGlyphs">14</text>
<polyline points="405.00,400.80 405.65,397.14 406.31,392.35 406.96,386.17 407.61,378.97 408.27,371.20 408.92,363.23 409.57,355.33 410.22,347.68 410.88,340.40 411.53,333.55 412.18,327.15 412.84,321.22 413.49,315.74 414.14,310.70 414.80,306.07 415.45,301.83 416.10,297.95 416.75,294.40 417.41,291.16 418.06,288.21 418.71,285.51 419.37,283.05 420.02,280.80 420.67,278.76 421.33,276.89 421.98,275.19 422.63,273.64 423.28,272.23 423.94,270.94 424.59,269.77 425.24,268.70 425.90,267.73 426.55,266.84 427.20,266.03 427.86,265.30 428.51,264.62 429.16,264.01 429.81,263.45 430.47,262.95 431.12,262.48 431.77,262.06 432.43,261.68 433.08,261.33 433.73,261.01 434.39,260.72 435.04,260.45 435.69,260.21 436.34,259.99 437.00,259.79 437.65,259.61 438.30,259.44 438.96,259.29 439.61,259.15 440.26,259.03 440.92,258.91 441.57,258.81 442.22,258.71 442.87,258.63 443.53,258.55 444.18,258.48 444.83,258.41 445.49,258.35 446.14,258.30 446.79,258.25 447.45,258.20 448.10,258.16 448.75,258.12 449.40,258.09 450.06,258.06 450.71,258.03 451.36,258.00 452.02,257.98 452.67,257.96 453.32,257.94 453.98,257.92 454.63,257.90 455.28,257.89 455.93,257.87 456.59,257.86 457.24,257.85 457.89,257.84 458.55,257.83 459.20,257.82 459.85,257.82 460.51,257.81 461.16,257.80 461.81,257.80 462.46,257.79 463.12,257.79 463.77,257.78 464.42,257.78 465.08,257.77 465.73,257.77 466.38,257.77 467.04,257.76 467.69,257.76 468.34,257.76 468.99,257.76 469.65,257.76 470.30,257.75 470.95,257.75 471.61,257.75 472.26,257.75 472.91,257.75 473.57,257.75 474.22,257.75 474.87,257.75 475.52,257.75 476.18,257.74 476.83,257.74 477.48,257.74 478.14,257.74 478.79,257.74 479.44,257.74 480.10,257.74 480.75,257.74 481.40,257.74 482.05,257.74 482.71,257.74 483.36,257.74 484.01,257.74 484.67,257.74 485.32,257.74 485.97,257.74 486.63,257.74 487.28,257.74 487.93,257.74 488.58,257.74 489.24,257.74 489.89,257.74 490.54,257.74 491.20,257.74 491.85,257.74 492.50,257.74 493.16,257.74 493.81,257.74 494.46,257.74 495.12,257.74 495.77,257.74 496.42,257.74 497.07,257.74 497.73,257.74 498.38,257.74 499.03,257.74 499.69,257.74 500.34,257.74 500.99,257.74 501.65,257.74 502.30,257.74 502.95,257.74 503.60,257.74 504.26,257.74 504.91,257.74 505.56,257.74 506.22,257.74 506.87,257.74 507.52,257.74 508.18,257.74 508.83,257.74 509.48,257.74 510.13,257.74 510.79,257.74 511.44,257.74 512.09,257.74 512.75,257.74 513.40,257.74 514.05,257.74 514.71,257.74 515.36,257.74 516.01,257.74 516.66,257.74 517.32,257.74 517.97,257.74 518.62,257.74 519.28,257.74 519.93,257.74 520.58,257.74 521.24,257.74 521.89,257.74 522.54,257.74 523.19,257.74 523.85,257.74 524.50,257.74 525.15,257.74 525.81,257.74 526.46,257.74 527.11,257.74 527.77,257.74 528.42,257.74 529.07,257.74 529.72,257.74 530.38,257.74 531.03,257.74 531.68,257.74 532.34,257.74 532.99,257.74 533.64,257.74 534.30,257.74 534.95,257.74 535.60,257.74 536.25,257.74 536.91,257.74 537.56,257.74 538.21,257.74 538.87,257.74 539.52,257.74 540.17,257.74 540.83,257.74 541.48,257.74 542.13,257.74 542.78,257.74 543.44,257.74 544.09,257.74 544.74,257.74 545.40,257.74 546.05,257.74 546.70,257.74 547.36,257.74 548.01,257.74 548.66,257.74 549.31,257.74 549.97,257.74 550.62,257.74 551.27,257.74 551.93,257.74 552.58,257.74 553.23,257.74 553.89,257.74 554.54,257.74 555.19,257.74 555.84,257.74 556.50,257.74 557.15,257.74 557.80,257.74 558.46,257.74 559.11,257.74 559.76,257.74 560.42,257.74 561.07,257.74 561.72,257.74 562.37,257.74 563.03,257.74 563.68,257.74 564.33,257.74 564.99,257.74 565.64,257.74 566.29,257.74 566.95,257.74 567.60,257.74 568.25,257.74 568.90,257.74 569.56,257.74 570.21,257.74 570.86,257.74 571.52,257.74 572.17,257.74 572.82,257.74 573.48,257.74 574.13,257.74 574.78,257.74 575.43,257.74 576.09,257.74 576.74,257.74 577.39,257.74 578.05,257.74 578.70,257.74 579.35,257.74 580.01,257.74 580.66,257.74 581.31,257.74 581.97,257.74 582.62,257.74 583.27,257.74 583.92,257.74 584.58,257.74 585.23,257.74 585.88,257.74 586.54,257.74 587.19,257.74 587.84,257.74 588.50,257.74 589.15,257.74 589.80,257.74 590.45,257.74 591.11,257.74 591.76,257.74 592.41,257.74 593.07,257.74 593.72,257.74 594.37,257.74 595.03,257.74 595.68,257.74 596.33,257.74 596.98,257.74 597.64,257.74 598.29,257.74 598.94,257.74 599.60,257.74 600.25,257.74 600.90,257.74 601.56,257.74 602.21,257.74 602.86,257.74 603.51,257.74 604.17,257.74 604.82,257.74 605.47,257.74 606.13,257.74 606.78,257.74 607.43,257.74 608.09,257.74 608.74,257.74 609.39,257.74 610.04,257.74 610.70,257.74 611.35,257.74 612.00,257.74 612.66,257.74 613.31,257.74 613.96,257.74 614.62,257.74 615.27,257.74 615.92,257.74 616.57,257.74 617.23,257.74 617.88,257.74 618.53,257.74 619.19,257.74 619.84,257.74 620.49,257.74 621.15,257.74 621.80,257.74 622.45,257.74 623.10,257.74 623.76,257.74 624.41,257.74 625.06,257.74 625.72,257.74 626.37,257.74 627.02,257.74 627.68,257.74 628.33,257.74 628.98,257.74 629.63,257.74 630.29,257.74 630.94,257.74 631.59,257.74 632.25,257.74 632.90,257.74 633.55,257.74 634.21,257.74 634.86,257.74 635.51,257.74 636.16,257.74 636.82,257.74 637.47,257.74 638.12,257.74 638.78,257.74 639.43,257.74 640.08,257.74 640.74,257.74 641.39,257.74 642.04,257.74 642.69,257.74 643.35,257.74 644.00,257.74 644.65,257.74 645.31,257.74 645.96,257.74 646.61,257.74 647.27,257.74 647.92,257.74 648.57,257.74 649.22,257.74 649.88,257.74 650.53,257.74 651.18,257.74 651.84,257.74 652.49,257.74 653.14,257.74 653.80,257.74 654.45,257.74 655.10,257.74 655.75,257.74 656.41,257.74 657.06,257.74 657.71,257.74 658.37,257.74 659.02,257.74 659.67,257.74 660.33,257.74 660.98,257.74 661.63,257.74 662.28,257.74 662.94,257.74 663.59,257.74 664.24,257.74 664.90,257.74 665.55,257.74" fill="none" stroke="#000" stroke-width="1.1"/>
<g fill="none" stroke="#000" stroke-width="1.1"><rect x="402.70" y="398.50" width="4.60" height="4.60"/><rect x="406.70" y="358.50" width="4.60" height="4.60"/><rect x="418.60" y="274.80" width="4.60" height="4.60"/><rect x="431.19" y="258.83" width="4.60" height="4.60"/><rect x="443.26" y="256.04" width="4.60" height="4.60"/><rect x="455.33" y="255.55" width="4.60" height="4.60"/><rect x="467.40" y="255.46" width="4.60" height="4.60"/><rect x="479.48" y="255.44" width="4.60" height="4.60"/><rect x="491.55" y="255.44" width="4.60" height="4.60"/><rect x="503.62" y="255.44" width="4.60" height="4.60"/><rect x="515.69" y="255.44" width="4.60" height="4.60"/><rect x="527.76" y="255.44" width="4.60" height="4.60"/><rect x="539.84" y="255.44" width="4.60" height="4.60"/><rect x="551.91" y="255.44" width="4.60" height="4.60"/><rect x="563.98" y="255.44" width="4.60" height="4.60"/><rect x="576.05" y="255.44" width="4.60" height="4.60"/><rect x="588.12" y="255.44" width="4.60" height="4.60"/><rect x="600.20" y="255.44" width="4.60" height="4.60"/><rect x="612.27" y="255.44" width="4.60" height="4.60"/><rect x="624.34" y="255.44" width="4.60" height="4.60"/><rect x="636.41" y="255.44" width="4.60" height="4.60"/><rect x="648.49" y="255.44" width="4.60" height="4.60"/><rect x="660.56" y="255.44" width="4.60" height="4.60"/><rect x="663.25" y="255.44" width="4.60" height="4.60"/></g>
<text class="th" x="98.6" y="32.9" font-size="18.8" textLength="86.0" lengthAdjust="spacingAndGlyphs">A - Sim. 13</text>
<text class="th" x="419.9" y="32.9" font-size="18.8" textLength="85.7" lengthAdjust="spacingAndGlyphs">B - Sim. 14</text>
<text class="th" x="99" y="241.1" font-size="18.8" textLength="84.8" lengthAdjust="spacingAndGlyphs">C - Sim. 15</text>
<text class="th" x="419.9" y="241.0" font-size="18.8" textLength="86.7" lengthAdjust="spacingAndGlyphs">D - Sim. 16</text>
<text class="th" transform="translate(24.5,99.5) rotate(-90)" font-size="17.8" text-anchor="middle" textLength="177.1" lengthAdjust="spacingAndGlyphs">Normalized flux (m s<tspan dy="-11" dx="-0.5" font-size="12">-1</tspan><tspan dy="11" dx="2.5">)</tspan></text>
<text class="th" transform="translate(20,307.65) rotate(-90)" font-size="17.8" text-anchor="middle" textLength="177.8" lengthAdjust="spacingAndGlyphs">Normalized flux (m s<tspan dy="-11" dx="-0.5" font-size="12">-1</tspan><tspan dy="11" dx="2.5">)</tspan></text>
<text class="th" x="171.6" y="444" font-size="18.4" textLength="92.4" lengthAdjust="spacingAndGlyphs">Time (days)</text>
<text class="th" x="492.3" y="444" font-size="18.4" textLength="92.4" lengthAdjust="spacingAndGlyphs">Time (days)</text>
<path d="M168.9,112.5H185.1" stroke="#000" stroke-width="0.9"/>
<g fill="none" stroke="#000" stroke-width="1.1"><path d="M174.35,154.70L177.20,151.85L180.05,154.70L177.20,157.55Z"/></g>
<text id="A0" x="189.5" y="115.60" font-size="8.6" textLength="88.18" lengthAdjust="spacingAndGlyphs">2D-axisymmetric model</text>
<text id="A1" x="189.5" y="127.50" font-size="8.6" textLength="154.24" lengthAdjust="spacingAndGlyphs"><tspan font-family="Liberation Serif" font-style="italic" font-size="10">ε</tspan><tspan font-size="6.4" dy="1.6" dx="0.2">sample</tspan><tspan dy="-1.6" dx="1.5" font-size="9.6">=</tspan><tspan dx="1.6">0.5, </tspan><tspan font-family="Liberation Serif" font-style="italic" font-size="10">τ</tspan><tspan font-size="6.4" dy="1.6" dx="0.2">sample</tspan><tspan dy="-1.6" dx="1.5" font-size="9.6">=</tspan><tspan dx="1.6">0.05, K</tspan><tspan font-size="6.4" dy="1.6">D</tspan><tspan dy="-1.6" dx="1.5" font-size="9.6">=</tspan><tspan dx="1.6">0 L kg</tspan><tspan font-size="6" dy="-3.5" dx="0.4">-1</tspan></text>
<text id="A2" x="189.5" y="140.60" font-size="8.6" textLength="87.54" lengthAdjust="spacingAndGlyphs"><tspan font-family="Liberation Serif" font-style="italic" font-size="10">ε</tspan><tspan font-size="6.4" dy="1.6" dx="0.2">filters</tspan><tspan dy="-1.6" dx="1.5" font-size="9.6">=</tspan><tspan dx="1.6">0.3, </tspan><tspan font-family="Liberation Serif" font-style="italic" font-size="10">τ</tspan><tspan font-size="6.4" dy="1.6" dx="0.2">filters</tspan><tspan dy="-1.6" dx="1.5" font-size="9.6">=</tspan><tspan dx="1.6">0.3</tspan></text>
<text id="A3" x="189.5" y="157.80" font-size="8.6" textLength="71.34" lengthAdjust="spacingAndGlyphs">1D-adjusted model</text>
<text id="A4" x="189.5" y="169.80" font-size="8.6" textLength="154.24" lengthAdjust="spacingAndGlyphs"><tspan font-family="Liberation Serif" font-style="italic" font-size="10">ε</tspan><tspan font-size="6.4" dy="1.6" dx="0.2">sample</tspan><tspan dy="-1.6" dx="1.5" font-size="9.6">=</tspan><tspan dx="1.6">0.5, </tspan><tspan font-family="Liberation Serif" font-style="italic" font-size="10">τ</tspan><tspan font-size="6.4" dy="1.6" dx="0.2">sample</tspan><tspan dy="-1.6" dx="1.5" font-size="9.6">=</tspan><tspan dx="1.6">0.05, K</tspan><tspan font-size="6.4" dy="1.6">D</tspan><tspan dy="-1.6" dx="1.5" font-size="9.6">=</tspan><tspan dx="1.6">0 L kg</tspan><tspan font-size="6" dy="-3.5" dx="0.4">-1</tspan></text>
<text id="A5" x="189.5" y="183.10" font-size="8.6" textLength="100.43" lengthAdjust="spacingAndGlyphs"><tspan font-family="Liberation Serif" font-style="italic" font-size="10">ε</tspan><tspan font-size="6.4" dy="1.6" dx="0.2">filters</tspan><tspan dy="-1.6" dx="1.5" font-size="9.6">=</tspan><tspan dx="1.6">0.147, </tspan><tspan font-family="Liberation Serif" font-style="italic" font-size="10">τ</tspan><tspan font-size="6.4" dy="1.6" dx="0.2">filters</tspan><tspan dy="-1.6" dx="1.5" font-size="9.6">=</tspan><tspan dx="1.6">0.11</tspan></text>
<path d="M409.9,56.0H425.9" stroke="#000" stroke-width="0.9"/>
<g fill="none" stroke="#000" stroke-width="1.1"><circle cx="417.40" cy="98.40" r="2.35"/></g>
<text id="B0" x="430.7" y="59.50" font-size="8.6" textLength="87.78" lengthAdjust="spacingAndGlyphs">2D-axisymmetric model</text>
<text id="B1" x="430.7" y="71.40" font-size="8.6" textLength="153.24" lengthAdjust="spacingAndGlyphs"><tspan font-family="Liberation Serif" font-style="italic" font-size="10">ε</tspan><tspan font-size="6.4" dy="1.6" dx="0.2">sample</tspan><tspan dy="-1.6" dx="1.5" font-size="9.6">=</tspan><tspan dx="1.6">0.5, </tspan><tspan font-family="Liberation Serif" font-style="italic" font-size="10">τ</tspan><tspan font-size="6.4" dy="1.6" dx="0.2">sample</tspan><tspan dy="-1.6" dx="1.5" font-size="9.6">=</tspan><tspan dx="1.6">0.05, K</tspan><tspan font-size="6.4" dy="1.6">D</tspan><tspan dy="-1.6" dx="1.5" font-size="9.6">=</tspan><tspan dx="1.6">2 L kg</tspan><tspan font-size="6" dy="-3.5" dx="0.4">-1</tspan></text>
<text id="B2" x="430.7" y="84.50" font-size="8.6" textLength="87.34" lengthAdjust="spacingAndGlyphs"><tspan font-family="Liberation Serif" font-style="italic" font-size="10">ε</tspan><tspan font-size="6.4" dy="1.6" dx="0.2">filters</tspan><tspan dy="-1.6" dx="1.5" font-size="9.6">=</tspan><tspan dx="1.6">0.3, </tspan><tspan font-family="Liberation Serif" font-style="italic" font-size="10">τ</tspan><tspan font-size="6.4" dy="1.6" dx="0.2">filters</tspan><tspan dy="-1.6" dx="1.5" font-size="9.6">=</tspan><tspan dx="1.6">0.3</tspan></text>
<text id="B3" x="430.7" y="101.70" font-size="8.6" textLength="70.14" lengthAdjust="spacingAndGlyphs">1D-adjusted model</text>
<text id="B4" x="430.7" y="113.70" font-size="8.6" textLength="153.24" lengthAdjust="spacingAndGlyphs"><tspan font-family="Liberation Serif" font-style="italic" font-size="10">ε</tspan><tspan font-size="6.4" dy="1.6" dx="0.2">sample</tspan><tspan dy="-1.6" dx="1.5" font-size="9.6">=</tspan><tspan dx="1.6">0.5, </tspan><tspan font-family="Liberation Serif" font-style="italic" font-size="10">τ</tspan><tspan font-size="6.4" dy="1.6" dx="0.2">sample</tspan><tspan dy="-1.6" dx="1.5" font-size="9.6">=</tspan><tspan dx="1.6">0.05, K</tspan><tspan font-size="6.4" dy="1.6">D</tspan><tspan dy="-1.6" dx="1.5" font-size="9.6">=</tspan><tspan dx="1.6">2 L kg</tspan><tspan font-size="6" dy="-3.5" dx="0.4">-1</tspan></text>
<text id="B5" x="430.7" y="127.00" font-size="8.6" textLength="100.43" lengthAdjust="spacingAndGlyphs"><tspan font-family="Liberation Serif" font-style="italic" font-size="10">ε</tspan><tspan font-size="6.4" dy="1.6" dx="0.2">filters</tspan><tspan dy="-1.6" dx="1.5" font-size="9.6">=</tspan><tspan dx="1.6">0.147, </tspan><tspan font-family="Liberation Serif" font-style="italic" font-size="10">τ</tspan><tspan font-size="6.4" dy="1.6" dx="0.2">filters</tspan><tspan dy="-1.6" dx="1.5" font-size="9.6">=</tspan><tspan dx="1.6">0.11</tspan></text>
<path d="M164.3,320.5H180.7" stroke="#000" stroke-width="0.9"/>
<g fill="none" stroke="#000" stroke-width="1.1"><path d="M173.10,359.80L176.00,365.40L170.20,365.40Z"/></g>
<text id="C0" x="185.1" y="324.00" font-size="8.6" textLength="88.78" lengthAdjust="spacingAndGlyphs">2D-axisymmetric model</text>
<text id="C1" x="185.1" y="335.90" font-size="8.6" textLength="158.42" lengthAdjust="spacingAndGlyphs"><tspan font-family="Liberation Serif" font-style="italic" font-size="10">ε</tspan><tspan font-size="6.4" dy="1.6" dx="0.2">sample</tspan><tspan dy="-1.6" dx="1.5" font-size="9.6">=</tspan><tspan dx="1.6">0.2, </tspan><tspan font-family="Liberation Serif" font-style="italic" font-size="10">τ</tspan><tspan font-size="6.4" dy="1.6" dx="0.2">sample</tspan><tspan dy="-1.6" dx="1.5" font-size="9.6">=</tspan><tspan dx="1.6">0.025, K</tspan><tspan font-size="6.4" dy="1.6">D</tspan><tspan dy="-1.6" dx="1.5" font-size="9.6">=</tspan><tspan dx="1.6">0 L kg</tspan><tspan font-size="6" dy="-3.5" dx="0.4">-1</tspan></text>
<text id="C2" x="185.1" y="349.00" font-size="8.6" textLength="87.54" lengthAdjust="spacingAndGlyphs"><tspan font-family="Liberation Serif" font-style="italic" font-size="10">ε</tspan><tspan font-size="6.4" dy="1.6" dx="0.2">filters</tspan><tspan dy="-1.6" dx="1.5" font-size="9.6">=</tspan><tspan dx="1.6">0.3, </tspan><tspan font-family="Liberation Serif" font-style="italic" font-size="10">τ</tspan><tspan font-size="6.4" dy="1.6" dx="0.2">filters</tspan><tspan dy="-1.6" dx="1.5" font-size="9.6">=</tspan><tspan dx="1.6">0.3</tspan></text>
<text id="C3" x="185.1" y="366.20" font-size="8.6" textLength="70.74" lengthAdjust="spacingAndGlyphs">1D-adjusted model</text>
<text id="C4" x="185.1" y="378.20" font-size="8.6" textLength="158.42" lengthAdjust="spacingAndGlyphs"><tspan font-family="Liberation Serif" font-style="italic" font-size="10">ε</tspan><tspan font-size="6.4" dy="1.6" dx="0.2">sample</tspan><tspan dy="-1.6" dx="1.5" font-size="9.6">=</tspan><tspan dx="1.6">0.2, </tspan><tspan font-family="Liberation Serif" font-style="italic" font-size="10">τ</tspan><tspan font-size="6.4" dy="1.6" dx="0.2">sample</tspan><tspan dy="-1.6" dx="1.5" font-size="9.6">=</tspan><tspan dx="1.6">0.025, K</tspan><tspan font-size="6.4" dy="1.6">D</tspan><tspan dy="-1.6" dx="1.5" font-size="9.6">=</tspan><tspan dx="1.6">0 L kg</tspan><tspan font-size="6" dy="-3.5" dx="0.4">-1</tspan></text>
<text id="C5" x="185.1" y="391.50" font-size="8.6" textLength="105.85" lengthAdjust="spacingAndGlyphs"><tspan font-family="Liberation Serif" font-style="italic" font-size="10">ε</tspan><tspan font-size="6.4" dy="1.6" dx="0.2">filters</tspan><tspan dy="-1.6" dx="1.5" font-size="9.6">=</tspan><tspan dx="1.6">0.147, </tspan><tspan font-family="Liberation Serif" font-style="italic" font-size="10">τ</tspan><tspan font-size="6.4" dy="1.6" dx="0.2">filters</tspan><tspan dy="-1.6" dx="1.5" font-size="9.6">=</tspan><tspan dx="1.6">0.032</tspan></text>
<path d="M494.1,320.5H510.9" stroke="#000" stroke-width="0.9"/>
<g fill="none" stroke="#000" stroke-width="1.1"><rect x="500.40" y="360.30" width="4.60" height="4.60"/></g>
<text id="D0" x="515.1" y="324.00" font-size="8.6" textLength="88.18" lengthAdjust="spacingAndGlyphs">2D-axisymmetric model</text>
<text id="D1" x="515.1" y="335.90" font-size="8.6" textLength="149.48" lengthAdjust="spacingAndGlyphs"><tspan font-family="Liberation Serif" font-style="italic" font-size="10">ε</tspan><tspan font-size="6.4" dy="1.6" dx="0.2">sample</tspan><tspan dy="-1.6" dx="1.5" font-size="9.6">=</tspan><tspan dx="1.6">0.5, </tspan><tspan font-family="Liberation Serif" font-style="italic" font-size="10">τ</tspan><tspan font-size="6.4" dy="1.6" dx="0.2">sample</tspan><tspan dy="-1.6" dx="1.5" font-size="9.6">=</tspan><tspan dx="1.6">0.8, K</tspan><tspan font-size="6.4" dy="1.6">D</tspan><tspan dy="-1.6" dx="1.5" font-size="9.6">=</tspan><tspan dx="1.6">0 L kg</tspan><tspan font-size="6" dy="-3.5" dx="0.4">-1</tspan></text>
<text id="D2" x="515.1" y="349.00" font-size="8.6" textLength="87.54" lengthAdjust="spacingAndGlyphs"><tspan font-family="Liberation Serif" font-style="italic" font-size="10">ε</tspan><tspan font-size="6.4" dy="1.6" dx="0.2">filters</tspan><tspan dy="-1.6" dx="1.5" font-size="9.6">=</tspan><tspan dx="1.6">0.3, </tspan><tspan font-family="Liberation Serif" font-style="italic" font-size="10">τ</tspan><tspan font-size="6.4" dy="1.6" dx="0.2">filters</tspan><tspan dy="-1.6" dx="1.5" font-size="9.6">=</tspan><tspan dx="1.6">0.3</tspan></text>
<text id="D3" x="515.1" y="366.20" font-size="8.6" textLength="70.14" lengthAdjust="spacingAndGlyphs">1D-adjusted model</text>
<text id="D4" x="515.1" y="378.20" font-size="8.6" textLength="149.48" lengthAdjust="spacingAndGlyphs"><tspan font-family="Liberation Serif" font-style="italic" font-size="10">ε</tspan><tspan font-size="6.4" dy="1.6" dx="0.2">sample</tspan><tspan dy="-1.6" dx="1.5" font-size="9.6">=</tspan><tspan dx="1.6">0.5, </tspan><tspan font-family="Liberation Serif" font-style="italic" font-size="10">τ</tspan><tspan font-size="6.4" dy="1.6" dx="0.2">sample</tspan><tspan dy="-1.6" dx="1.5" font-size="9.6">=</tspan><tspan dx="1.6">0.8, K</tspan><tspan font-size="6.4" dy="1.6">D</tspan><tspan dy="-1.6" dx="1.5" font-size="9.6">=</tspan><tspan dx="1.6">0 L kg</tspan><tspan font-size="6" dy="-3.5" dx="0.4">-1</tspan></text>
<text id="D5" x="515.1" y="391.50" font-size="8.6" textLength="101.47" lengthAdjust="spacingAndGlyphs"><tspan font-family="Liberation Serif" font-style="italic" font-size="10">ε</tspan><tspan font-size="6.4" dy="1.6" dx="0.2">filters</tspan><tspan dy="-1.6" dx="1.5" font-size="9.6">=</tspan><tspan dx="1.6">0.147, </tspan><tspan font-family="Liberation Serif" font-style="italic" font-size="10">τ</tspan><tspan font-size="6.4" dy="1.6" dx="0.2">filters</tspan><tspan dy="-1.6" dx="1.5" font-size="9.6">=</tspan><tspan dx="1.6">0.27</tspan></text>
</svg>
</body></html>
